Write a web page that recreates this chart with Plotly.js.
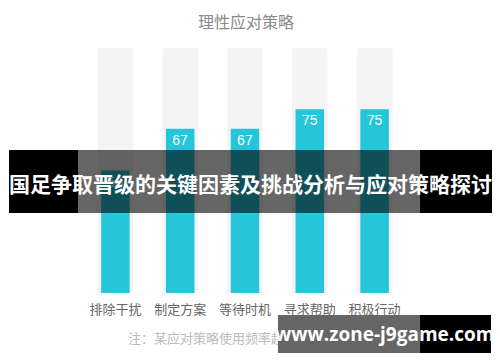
<!DOCTYPE html>
<html>
<head>
<meta charset="utf-8">
<script src="https://cdn.plot.ly/plotly-3.0.1.min.js"></script>
<style>html,body{margin:0;padding:0;background:#fff;}#chart{width:500px;height:362px;}</style>
</head>
<body>
<div id="chart"></div>
<script>
const categories = ['排除干扰', '制定方案', '等待时机', '寻求帮助', '积极行动'];
const values = [50, 67, 67, 75, 75];
const maxValues = [100, 100, 100, 100, 100];
const chartTitle = '理性应对策略';
const noteText = '注：某应对策略使用频率越高，数值越大';
const bannerText = '国足争取晋级的关键因素及挑战分析与应对策略探讨';
const watermarkText = 'www.zone-j9game.com';

const W = 500, H = 362;
const M = {l: 83, r: 93, t: 48, b: 69};
const pw = W - M.l - M.r, ph = H - M.t - M.b;
const fx = px => (px - M.l) / pw;
const fy = py => (H - M.b - py) / ph;
const CJK = '"Noto Sans CJK SC", "Noto Sans", sans-serif';

const traces = [
  {
    type: 'bar', x: categories, y: maxValues, width: 0.55,
    marker: {color: '#f4f4f4', cornerradius: 3},
    hoverinfo: 'skip'
  },
  {
    type: 'bar', x: categories, y: values, width: 0.44,
    marker: {color: '#26c6da', cornerradius: 2},
    text: values.map(String), textposition: 'inside', insidetextanchor: 'end',
    textangle: 0,
    textfont: {color: '#ffffff', size: 14, family: '"Liberation Sans", Arial, sans-serif'},
    hoverinfo: 'skip'
  }
];

function rect(x0, x1, y0, y1, color) {
  return {type: 'rect', xref: 'paper', yref: 'paper', x0: fx(x0), x1: fx(x1), y0: fy(y1), y1: fy(y0),
    fillcolor: color, line: {width: 0}, layer: 'above'};
}
function boxAnn(x0, x1, y0, y1, color) {
  return {xref: 'paper', yref: 'paper', x: fx(x0), y: fy(y0), xanchor: 'left', yanchor: 'top',
    text: '\u00a0', showarrow: false, width: x1 - x0, height: y1 - y0, bgcolor: color,
    borderpad: 0, borderwidth: 0, font: {size: 10}};
}

const layout = {
  width: W, height: H, margin: M,
  paper_bgcolor: '#ffffff', plot_bgcolor: '#ffffff',
  barmode: 'overlay', showlegend: false,
  title: {text: chartTitle, x: fx(246), xanchor: 'center', xref: 'paper', y: 1 - 22 / H, yref: 'container', yanchor: 'middle',
    font: {family: CJK, size: 16, color: '#8a8a8a'}},
  xaxis: {showgrid: false, zeroline: false, showline: false, ticks: '', fixedrange: true,
    ticklabelstandoff: 7,
    tickfont: {family: CJK, size: 13, color: '#666666'}},
  yaxis: {range: [0, 100], visible: false, fixedrange: true},
  shapes: [
    rect(9, 78, 150, 213, '#000000'),
    rect(78, 420, 150, 213, 'rgba(0,0,0,0.6)'),
    rect(420, 492, 150, 213, '#000000')
  ],
  annotations: [
    {xref: 'paper', yref: 'paper', x: fx(126), y: fy(337), xanchor: 'left', yanchor: 'middle',
      text: noteText, showarrow: false, font: {family: CJK, size: 13, color: '#bbbbbb'}},
    boxAnn(278, 420, 315, 353, '#666666'),
    boxAnn(420, 491, 315, 353, '#000000'),
    {xref: 'paper', yref: 'paper', x: fx(384), y: fy(334), xanchor: 'center', yanchor: 'middle',
      text: '<b>' + watermarkText + '</b>', showarrow: false,
      font: {family: '"Open Sans", "DejaVu Sans", sans-serif', size: 19, color: '#ffffff'}},
    {xref: 'paper', yref: 'paper', x: fx(250.5), y: fy(183), xanchor: 'center', yanchor: 'middle',
      text: '<b>' + bannerText + '</b>', showarrow: false,
      font: {family: CJK, size: 21, color: '#ffffff'}}
  ]
};

Plotly.newPlot('chart', traces, layout, {staticPlot: true, displayModeBar: false});
</script>
</body>
</html>
